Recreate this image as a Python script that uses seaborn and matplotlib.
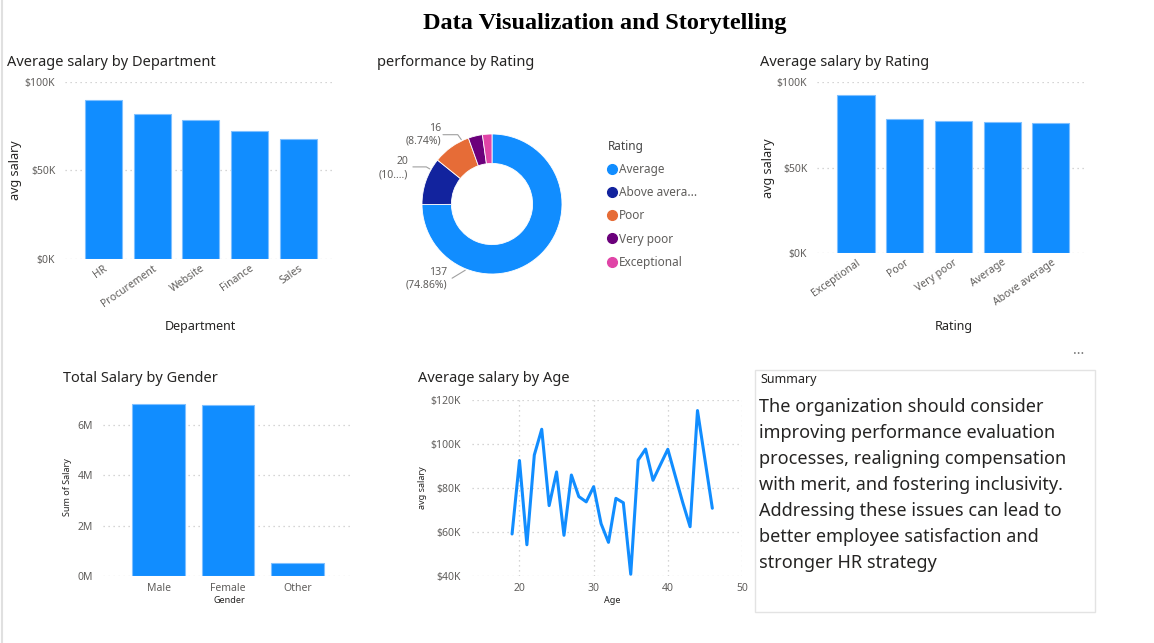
import matplotlib.pyplot as plt
import matplotlib.patches as patches
from matplotlib.lines import Line2D
from matplotlib.ticker import FuncFormatter
import numpy as np
import seaborn as sns

sns.set_style('white')
plt.rcParams['font.family'] = ['Noto Sans', 'DejaVu Sans']

W, H = 1154, 643
BLUE = '#118DFF'
TXT = '#252423'
TICK = '#605E5C'
GRID = '#C8C8C8'

# ---- data ----
departments = ['HR', 'Procurement', 'Website', 'Finance', 'Sales']
dept_salary = [89700, 81700, 78700, 72500, 67800]

ratings = ['Average', 'Above average', 'Poor', 'Very poor', 'Exceptional']
rating_counts = [137, 20, 16, 6, 4]
rating_colors = ['#118DFF', '#12239E', '#E66C37', '#6B007B', '#E044A7']
donut_labels = ['137\n(74.86%)', '20\n(10....)', '16\n(8.74%)']

rating_order = ['Exceptional', 'Poor', 'Very poor', 'Average', 'Above average']
rating_salary = [92200, 78300, 77300, 76800, 76000]

genders = ['Male', 'Female', 'Other']
gender_salary = [6840000, 6810000, 530000]

ages = list(range(19, 47))
age_salary = [59100, 92500, 54200, 95000, 106700, 72000, 87300, 58500, 85900,
              76100, 73700, 80600, 63800, 55300, 75300, 73300, 40800, 92700,
              97700, 83500, 90600, 97600, 85500, 73500, 62400, 115200, 93000,
              70800]

summary_text = ("The organization should consider\n"
                "improving performance evaluation\n"
                "processes, realigning compensation\n"
                "with merit, and fostering inclusivity.\n"
                "Addressing these issues can lead to\n"
                "better employee satisfaction and\n"
                "stronger HR strategy")

fig = plt.figure(figsize=(W / 100, H / 100), dpi=100)
fig.patch.set_facecolor('white')


def px_axes(x0, y0, x1, y1):
    return fig.add_axes([x0 / W, 1 - y1 / H, (x1 - x0) / W, (y1 - y0) / H])


def fx(x):
    return x / W


def fy(y):
    return 1 - y / H


def style_ax(ax, tick_size=7.5, xgrid=False):
    for s in ax.spines.values():
        s.set_visible(False)
    ax.grid(axis='y', color=GRID, linestyle=(0, (1, 3)), linewidth=0.9)
    if xgrid:
        ax.grid(axis='x', color=GRID, linestyle=(0, (1, 3)), linewidth=0.9)
    ax.set_axisbelow(True)
    ax.tick_params(length=0, labelsize=tick_size, labelcolor=TICK)


kfmt = FuncFormatter(lambda v, p: f'${v / 1000:.0f}K')
mfmt = FuncFormatter(lambda v, p: f'{v / 1e6:.0f}M')

fig.text(fx(605), fy(24), 'Data Visualization and Storytelling', ha='center', va='center',
         fontsize=17.5, fontweight='bold', family='Liberation Serif', color='black')

# ---- Average salary by Department ----
ax1 = px_axes(65, 82, 335, 259)
sns.barplot(x=departments, y=dept_salary, color=BLUE, saturation=1, width=0.76,
            edgecolor='#7fc0ff', linewidth=0.8, ax=ax1)
style_ax(ax1)
ax1.set_xlim(-0.79, 4.75)
ax1.set_ylim(0, 100000)
ax1.set_yticks([0, 50000, 100000])
ax1.yaxis.set_major_formatter(kfmt)
ax1.tick_params(axis='y', pad=7)
ax1.tick_params(axis='x', pad=3)
plt.setp(ax1.get_xticklabels(), rotation=35, ha='right', rotation_mode='anchor')
ax1.set_ylabel('avg salary', fontsize=9, color=TXT)
ax1.set_xlabel('Department', fontsize=9, color=TXT)
ax1.yaxis.set_label_coords(fx(22), fy(170), transform=fig.transFigure)
ax1.xaxis.set_label_coords(fx(200), fy(320), transform=fig.transFigure)
fig.text(fx(7), fy(62), 'Average salary by Department', ha='left', va='center',
         fontsize=10.5, color=TXT)

# ---- performance by Rating (donut) ----
r_px = 70
axd = px_axes(492 - 100, 204 - 100, 492 + 100, 204 + 100)
wedges, _ = axd.pie(rating_counts, colors=rating_colors, startangle=90, counterclock=False,
                    radius=1, wedgeprops=dict(width=0.42, edgecolor='white', linewidth=0.6))
lim = 100 / r_px
axd.set_xlim(-lim, lim)
axd.set_ylim(-lim, lim)
axd.set_aspect('equal')

# leader lines: ring point angle, elbow, text anchor (data units of the donut)
leaders = [(248, (-0.57, -1.06), (-0.64, -1.07)),
           (150.6, (-1.13, 0.53), (-1.20, 0.51)),
           (115.5, (-0.70, 0.99), (-0.73, 0.99))]
for (ang, end, txt_pos), lab in zip(leaders, donut_labels):
    a = np.deg2rad(ang)
    p = (np.cos(a) * 1.02, np.sin(a) * 1.02)
    if ang > 180:
        xs, ys = [p[0], end[0]], [p[1], end[1]]
    else:
        mid = (p[0] - 0.05, end[1])
        xs, ys = [p[0], mid[0], end[0]], [p[1], mid[1], end[1]]
    axd.plot(xs, ys, color='#A0A0A0', lw=0.8, clip_on=False)
    axd.text(txt_pos[0], txt_pos[1], lab, ha='right', va='center', fontsize=7.5,
             color=TICK, linespacing=1.25)

handles = [Line2D([0], [0], marker='o', color='none', markerfacecolor=c, markeredgecolor=c,
                  markersize=7) for c in rating_colors]
leg_labels = [r if len(r) <= 12 else r[:11] + '...' for r in ratings]
leg = axd.legend(handles, leg_labels, title='Rating', loc='upper left',
                 bbox_to_anchor=(fx(608), fy(140)), bbox_transform=fig.transFigure,
                 frameon=False, fontsize=8.5, handlelength=0.7, handletextpad=0.2,
                 labelspacing=0.86, borderpad=0, borderaxespad=0)
leg.get_title().set_fontsize(8.5)
leg.get_title().set_fontweight('bold')
leg.get_title().set_color('#444444')
leg._legend_box.align = 'left'
for t in leg.get_texts():
    t.set_color(TICK)
fig.text(fx(377), fy(62), 'performance by Rating', ha='left', va='center',
         fontsize=10.5, color=TXT)

# ---- Average salary by Rating ----
ax3 = px_axes(817, 82, 1087, 253)
sns.barplot(x=rating_order, y=rating_salary, color=BLUE, saturation=1, width=0.76,
            edgecolor='#7fc0ff', linewidth=0.8, ax=ax3)
style_ax(ax3)
ax3.set_xlim(-0.8, 4.74)
ax3.set_ylim(0, 100000)
ax3.set_yticks([0, 50000, 100000])
ax3.yaxis.set_major_formatter(kfmt)
ax3.tick_params(axis='y', pad=7)
ax3.tick_params(axis='x', pad=3)
plt.setp(ax3.get_xticklabels(), rotation=35, ha='right', rotation_mode='anchor')
ax3.set_ylabel('avg salary', fontsize=9, color=TXT)
ax3.set_xlabel('Rating', fontsize=9, color=TXT)
ax3.yaxis.set_label_coords(fx(775), fy(168), transform=fig.transFigure)
ax3.xaxis.set_label_coords(fx(954), fy(320), transform=fig.transFigure)
fig.text(fx(760), fy(62), 'Average salary by Rating', ha='left', va='center',
         fontsize=10.5, color=TXT)

# ---- Total Salary by Gender ----
ax4 = px_axes(103, 400, 351, 576)
sns.barplot(x=genders, y=gender_salary, color=BLUE, saturation=1, width=0.76,
            edgecolor='#7fc0ff', linewidth=0.8, ax=ax4)
style_ax(ax4, tick_size=7.5)
ax4.set_xlim(-0.8, 2.77)
ax4.set_ylim(0, 7000000)
ax4.set_yticks([0, 2e6, 4e6, 6e6])
ax4.yaxis.set_major_formatter(mfmt)
ax4.tick_params(axis='y', pad=7)
ax4.tick_params(axis='x', pad=5)
ax4.set_ylabel('Sum of Salary', fontsize=6.5, color=TXT)
ax4.set_xlabel('Gender', fontsize=6.5, color=TXT)
ax4.yaxis.set_label_coords(fx(72), fy(487), transform=fig.transFigure)
ax4.xaxis.set_label_coords(fx(229), fy(596), transform=fig.transFigure)
fig.text(fx(63), fy(379), 'Total Salary by Gender', ha='left', va='center',
         fontsize=10.5, color=TXT)

# ---- Average salary by Age ----
ax5 = px_axes(472, 400, 742, 576)
sns.lineplot(x=ages, y=age_salary, color=BLUE, linewidth=2.2, ax=ax5)
style_ax(ax5, tick_size=7.5, xgrid=True)
ax5.set_xlim(13.6, 50)
ax5.set_ylim(40000, 120000)
ax5.set_xticks([20, 30, 40, 50])
ax5.set_yticks([40000, 60000, 80000, 100000, 120000])
ax5.yaxis.set_major_formatter(kfmt)
ax5.tick_params(axis='y', pad=8)
ax5.tick_params(axis='x', pad=5)
ax5.set_ylabel('avg salary', fontsize=6.5, color=TXT)
ax5.set_xlabel('Age', fontsize=6.5, color=TXT)
ax5.yaxis.set_label_coords(fx(427), fy(488), transform=fig.transFigure)
ax5.xaxis.set_label_coords(fx(612), fy(596), transform=fig.transFigure)
fig.text(fx(418), fy(379), 'Average salary by Age', ha='left', va='center',
         fontsize=10.5, color=TXT)

# ---- Summary text box ----
fig.add_artist(patches.Rectangle((fx(755), fy(612)), (1095 - 755) / W, (612 - 370) / H,
                                 transform=fig.transFigure, facecolor='white',
                                 edgecolor='#E3E3E3', linewidth=1))
fig.text(fx(760), fy(379), 'Summary', ha='left', va='center', fontsize=9, color=TXT)
fig.text(fx(759), fy(398), summary_text, ha='left', va='top', fontsize=13,
         color=TXT, linespacing=1.57)
fig.text(fx(1079), fy(350), '...', ha='center', va='center', fontsize=10, color='#777777')

fig.add_artist(Line2D([fx(1.5), fx(1.5)], [0, 1], transform=fig.transFigure,
                      color='#E0E0E0', linewidth=1.5))

fig.savefig('out.png', dpi=100, facecolor='white')
